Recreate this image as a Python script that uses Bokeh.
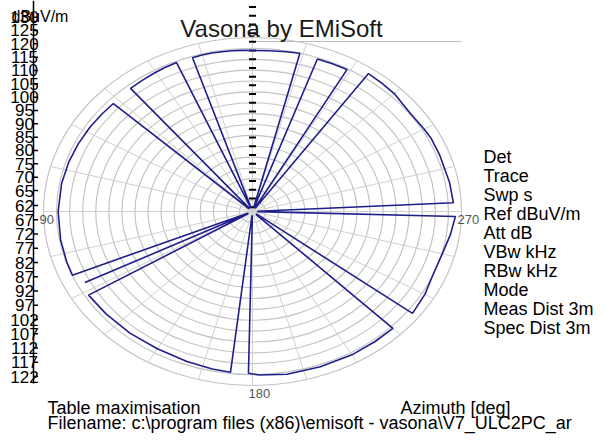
import numpy as np
from bokeh.plotting import figure
from bokeh.models import Range1d
from bokeh.core.properties import value
from bokeh.embed import file_html
from bokeh.resources import INLINE

# ---------------- data ----------------
title_text = "Vasona by EMiSoft"

azimuth_deg = [0, 3, 6, 9, 12, 15, 18, 18.5, 22.5, 23, 27, 31, 35, 39.5, 40, 46.5,
               47, 52, 58, 65, 72, 80, 90, 100, 108, 113, 113.5, 116.5, 117, 117.5, 121,
               121.5, 130, 140, 150, 160, 168, 173.5, 174, 178.3,
               178.8, 182, 190, 200, 210, 218, 225, 225.5, 232,
               232.6, 240, 248, 255, 262, 268.3, 268.8, 272.5,
               273, 280, 290, 296, 300, 307, 315, 320, 325, 325.5, 330.5,
               331, 336, 340.5, 341, 345.5, 346, 350, 355, 360]
level_dbuv = [124.0, 124.2, 124.3, 124.4, 124.5, 124.5, 124.3, 52, 52, 124.4, 124.2, 123.9, 123.6, 123.4, 52, 52,
              122.8, 123.0, 123.3, 123.6, 123.9, 124.2, 124.4, 124.6, 124.8, 124.9, 52, 52, 122.0, 52, 52,
              123.6, 123.2, 123.0, 122.9, 123.4, 124.0, 124.4, 52, 52,
              124.4, 125.2, 126.0, 126.0, 126.1, 126.0, 126.0, 52, 52,
              127.1, 126.2, 124.9, 125.2, 126.5, 127.7, 52, 52,
              127.0, 126.6, 126.2, 126.2, 125.8, 125.4, 126.7, 127.0, 127.4, 52, 52,
              124.6, 124.5, 124.4, 52, 52, 125.0, 124.6, 124.2, 124.0]

ring_levels = [55, 60, 65, 70, 75, 80, 85, 90, 95, 100, 105, 110, 115, 120, 125, 130]
spoke_deg = [0, 15, 30, 45, 60, 75, 90, 105, 120, 135, 150, 165,
             180, 195, 210, 225, 240, 255, 270, 285, 300, 315, 330, 345]
radial_tick_levels = [52, 56, 60, 64, 68, 72, 76, 80, 84, 88, 92, 96, 100, 104,
                      108, 112, 116, 120, 124, 128, 132, 136, 140, 144]
compass_labels = ["90", "180", "270"]
compass_deg = [90, 180, 270]

left_top_labels = [130, 125, 120, 115, 110, 105, 100, 95, 90, 85, 80, 75, 70, 65]
left_bottom_labels = [62, 67, 72, 77, 82, 87, 92, 97, 102, 107, 112, 117, 122]
unit_label = "dBuV/m"

info_lines = ["Det", "Trace", "Swp  s", "Ref  dBuV/m", "Att  dB", "VBw kHz",
              "RBw kHz", "Mode", "Meas Dist 3m", "Spec Dist 3m"]
bottom_left_text = "Table maximisation"
bottom_right_text = "Azimuth [deg]"
filename_text = "Filename: c:\\program files (x86)\\emisoft - vasona\\V7_ULC2PC_ar"

# ---------------- layout ----------------
W, H = 605, 442
CX, CY = 252, 211          # polar centre (pixels from top-left)
RX, RY = 209, 174          # outer ring radii (pixels)
L0, L1 = 50.0, 130.0       # level at centre / outer ring
FONT = value("Liberation Sans")


def px(xp):  # pixel x -> data x
    return xp - CX


def py(yp):  # pixel y -> data y
    return CY - yp


p = figure(width=W, height=H, output_backend="svg", toolbar_location=None,
           x_range=Range1d(px(0), px(W)), y_range=Range1d(py(H), py(0)),
           x_axis_type=None, y_axis_type=None,
           min_border_left=0, min_border_right=0, min_border_top=0, min_border_bottom=0)
p.outline_line_color = None
p.grid.visible = False
p.background_fill_color = "white"
p.border_fill_color = "white"


def polar(az, lev):
    az = np.radians(np.asarray(az, dtype=float))
    r = (np.asarray(lev, dtype=float) - L0) / (L1 - L0)
    return -RX * r * np.sin(az), RY * r * np.cos(az)


# rings
rr = (np.array(ring_levels, dtype=float) - L0) / (L1 - L0)
p.ellipse(x=0, y=0, width=2 * RX * rr, height=2 * RY * rr, fill_color=None,
          line_color="#c4c4c4", line_width=1.2)

# spokes
sx, sy = polar(spoke_deg, [L1] * len(spoke_deg))
p.segment(x0=0, y0=0, x1=sx, y1=sy, line_color="#d0d0d0", line_width=1)

# top frame line
p.segment(x0=[0], y0=[py(41)], x1=[RX], y1=[py(41)], line_color="#bdbdbd", line_width=1.2)

# radial tick dashes along 0 deg
tx, ty = polar([0] * len(radial_tick_levels), radial_tick_levels)
p.scatter(x=tx, y=ty, marker="dash", size=7, line_color="black", line_width=2)

# trace
trx, try_ = polar(azimuth_deg, level_dbuv)
p.line(trx, try_, line_color="#1f1f8c", line_width=1.6)

# compass labels
cx_, cy_ = polar(compass_deg, [L1] * 3)
p.text(x=cx_, y=cy_, text=compass_labels, text_font=FONT, text_font_size=value("13px"),
       text_color="#555555", text_align="left", text_baseline="top", x_offset=-4, y_offset=3)

# title
p.text(x=[px(281)], y=[py(28)], text=[title_text], text_font=FONT,
       text_font_size=value("24px"), text_color="#1a1a1a", text_align="center",
       text_baseline="middle")

# info block on the right
INFO_X, INFO_Y0, INFO_DY = 483, 156, 19.1
p.text(x=[px(INFO_X)] * len(info_lines),
       y=[py(INFO_Y0 + i * INFO_DY) for i in range(len(info_lines))], text=info_lines,
       text_font=FONT, text_font_size=value("18px"), text_color="black",
       text_align="left", text_baseline="middle")

# bottom texts
p.text(x=[px(47), px(400), px(47)], y=[py(407), py(407), py(422)],
       text=[bottom_left_text, bottom_right_text, filename_text], text_font=FONT,
       text_font_size=value("18px"), text_color="black", text_align="left",
       text_baseline="middle")

# ---------------- left level axis (two overlapping scales) ----------------
AX_X = 33
TOP_ANCHOR_Y, TOP_ANCHOR_V, TOP_PX_PER_DB = 190, 65, 2.667     # descending upper scale
BOT_ANCHOR_Y, BOT_ANCHOR_V, BOT_PX_PER_DB = 205, 62, 2.85      # ascending lower scale

top_y = [py(TOP_ANCHOR_Y - (v - TOP_ANCHOR_V) * TOP_PX_PER_DB) for v in left_top_labels]
bot_y = [py(BOT_ANCHOR_Y + (v - BOT_ANCHOR_V) * BOT_PX_PER_DB) for v in left_bottom_labels]
lab_y = top_y + bot_y
lab_t = [str(v) for v in left_top_labels] + [str(v) for v in left_bottom_labels]

p.segment(x0=[px(AX_X)], y0=[py(0)], x1=[px(AX_X)], y1=[py(383)],
          line_color="black", line_width=1.5)
p.scatter(x=[px(AX_X + 2)] * len(lab_y), y=lab_y, marker="dash", size=5,
          line_color="black", line_width=1.5)
p.text(x=[px(24)] * len(lab_y), y=lab_y, text=lab_t, text_font=FONT,
       text_font_size=value("17px"), text_color="black", text_align="center",
       text_baseline="middle")
p.text(x=[px(11)], y=[py(16)], text=[unit_label], text_font=FONT,
       text_font_size=value("16px"), text_color="black", text_align="left",
       text_baseline="middle")

open("out.html", "w").write(file_html(p, INLINE))
